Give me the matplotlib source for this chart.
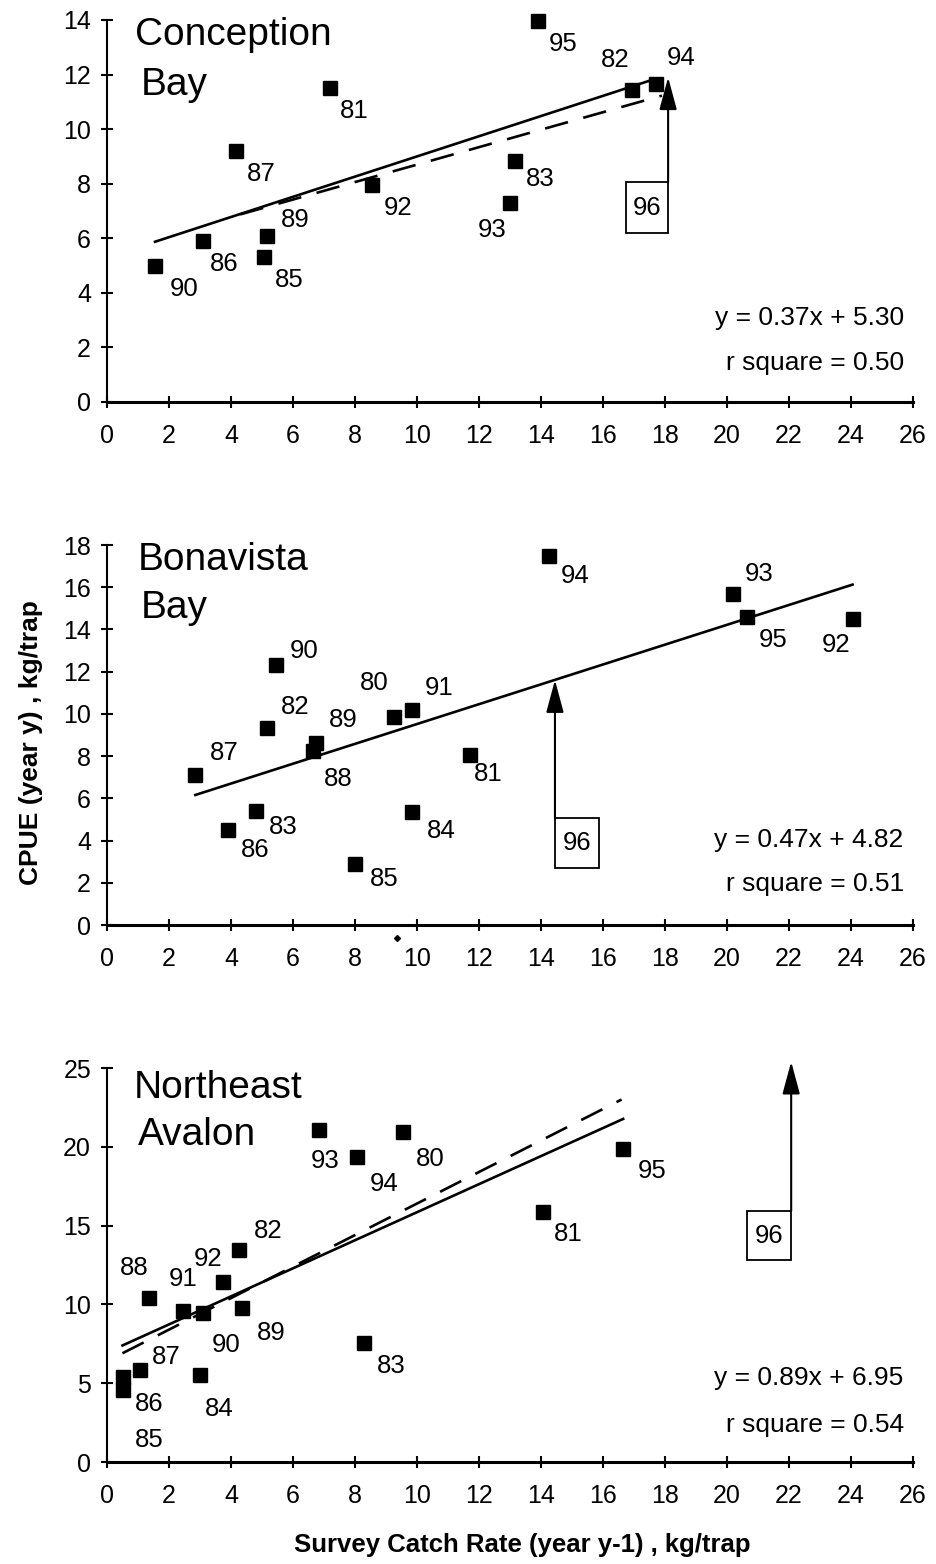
import matplotlib.pyplot as plt
from matplotlib.patches import Rectangle

plt.rcParams['font.family'] = ['Liberation Sans', 'DejaVu Sans']

# Conception Bay
cb_years = ['90', '86', '87', '85', '89', '81', '92', '93', '83', '95', '82', '94']
cb_x = [1.55, 3.1, 4.15, 5.05, 5.15, 7.2, 8.55, 13.0, 13.15, 13.9, 16.95, 17.7]
cb_y = [5.0, 5.9, 9.2, 5.3, 6.1, 11.5, 7.95, 7.3, 8.85, 13.95, 11.45, 11.65]
cb_fit = (0.37, 5.30)
cb_fit2 = (0.32, 5.5)
cb_r2 = 0.50

# Bonavista Bay
bb_years = ['87', '86', '83', '82', '90', '88', '89', '85', '80', '91', '84', '81', '94', '93', '95', '92']
bb_x = [2.85, 3.9, 4.8, 5.15, 5.45, 6.65, 6.75, 8.0, 9.25, 9.85, 9.85, 11.7, 14.25, 20.2, 20.65, 24.05]
bb_y = [7.1, 4.5, 5.4, 9.35, 12.3, 8.25, 8.6, 2.9, 9.85, 10.2, 5.35, 8.05, 17.5, 15.7, 14.6, 14.5]
bb_fit = (0.47, 4.82)
bb_r2 = 0.51

# Northeast Avalon
na_years = ['86', '85', '87', '88', '91', '84', '90', '92', '89', '82', '93', '94', '80', '83', '81', '95']
na_x = [0.5, 0.5, 1.05, 1.35, 2.45, 3.0, 3.1, 3.75, 4.35, 4.25, 6.85, 8.05, 9.55, 8.3, 14.05, 16.65]
na_y = [5.4, 4.6, 5.85, 10.4, 9.55, 5.55, 9.45, 11.45, 9.75, 13.45, 21.05, 19.35, 20.95, 7.55, 15.85, 19.85]
na_fit = (0.89, 6.95)
na_fit2 = (1.0, 6.4)
na_r2 = 0.54

x_ticks = list(range(0, 27, 2))

LABEL_FS = 18.5
TITLE_FS = 28


def setup_axes(ax, ymax, ystep):
    ax.set_xlim(0, 26)
    ax.set_ylim(0, ymax)
    ax.set_xticks(x_ticks)
    ax.set_yticks(range(0, ymax + 1, ystep))
    for s in ['top', 'right']:
        ax.spines[s].set_visible(False)
    ax.spines['left'].set_linewidth(1.5)
    ax.spines['bottom'].set_linewidth(2.2)
    ax.tick_params(axis='both', direction='inout', length=9, width=1.5, labelsize=18)
    ax.tick_params(axis='x', pad=11)
    ax.tick_params(axis='y', pad=7)
    ax.patch.set_alpha(0)


def draw_points(ax, xs, ys, years, offsets):
    ax.plot(xs, ys, 's', color='black', markersize=10.5, clip_on=False, zorder=4)
    for x, y, yr, off in zip(xs, ys, years, offsets):
        ax.annotate(yr, (x, y), xytext=off, textcoords='offset pixels',
                    ha='center', va='center', fontsize=LABEL_FS)


def draw_fit(ax, fit, x0, x1, ls='-'):
    a, b = fit
    if ls == '-':
        ax.plot([x0, x1], [a * x0 + b, a * x1 + b], color='black', lw=1.9, zorder=3)
    else:
        ax.plot([x0, x1], [a * x0 + b, a * x1 + b], color='black', lw=1.9,
                dashes=(9, 6), zorder=3)


def draw_96(ax, box, arrow_x, y_top):
    x0, x1, y0, y1 = box
    ax.add_patch(Rectangle((x0, y0), x1 - x0, y1 - y0, fill=False, lw=1.3,
                           edgecolor='black', clip_on=False))
    ax.text((x0 + x1) / 2, (y0 + y1) / 2, '96', ha='center', va='center', fontsize=LABEL_FS)
    ax.annotate('', xy=(arrow_x, y_top), xytext=(arrow_x, y1),
                arrowprops=dict(arrowstyle='-|>,head_length=1.0,head_width=0.27',
                                mutation_scale=20, lw=1.5, color='black',
                                shrinkA=0, shrinkB=0),
                annotation_clip=False)


def draw_stats(ax, fit, r2, y_eq, y_r2):
    a, b = fit
    ax.text(25.7, y_eq, f'y = {a:.2f}x + {b:.2f}', ha='right', va='center', fontsize=19)
    ax.text(25.7, y_r2, f'r square = {r2:.2f}', ha='right', va='center', fontsize=19)


fig = plt.figure(figsize=(9.36, 15.64), dpi=100)
left, width = 107 / 936, (913 - 107) / 936

# panel 1
ax1 = fig.add_axes([left, 1 - 402 / 1564, width, (402 - 20) / 1564])
setup_axes(ax1, 14, 2)
draw_fit(ax1, cb_fit, 1.55, 17.7)
draw_fit(ax1, cb_fit2, 4.3, 17.9, ls='--')
cb_off = [(29, -23), (21, -23), (26, -23), (26, -23), (29, 16), (24, -23),
          (26, -23), (-18, -27), (26, -18), (25, -23), (-17, 30), (25, 26)]
draw_points(ax1, cb_x, cb_y, cb_years, cb_off)
draw_96(ax1, (16.73, 18.1, 6.2, 8.05), 18.1, 11.9)
draw_stats(ax1, cb_fit, cb_r2, 3.08, 1.43)
ax1.text(0.9, 13.45, 'Conception', fontsize=TITLE_FS, va='center', ha='left')
ax1.text(1.1, 11.6, 'Bay', fontsize=TITLE_FS, va='center', ha='left')

# panel 2
ax2 = fig.add_axes([left, 1 - 925 / 1564, width, (925 - 545) / 1564])
setup_axes(ax2, 18, 2)
draw_fit(ax2, bb_fit, 2.85, 24.05)
bb_off = [(29, 22), (27, -20), (27, -16), (29, 21), (28, 14), (25, -28), (27, 23),
          (29, -15), (-20, 34), (27, 22), (29, -19), (19, -19), (26, -20), (26, 20),
          (26, -23), (-16, -26)]
draw_points(ax2, bb_x, bb_y, bb_years, bb_off)
draw_96(ax2, (14.45, 15.86, 2.7, 5.07), 14.45, 11.6)
draw_stats(ax2, bb_fit, bb_r2, 4.03, 1.94)
ax2.text(1.0, 17.3, 'Bonavista', fontsize=TITLE_FS, va='center', ha='left')
ax2.text(1.1, 15.0, 'Bay', fontsize=TITLE_FS, va='center', ha='left')
ax2.plot([9.35], [-0.6], marker='D', color='black', markersize=3, clip_on=False)

# panel 3
ax3 = fig.add_axes([left, 1 - 1462 / 1564, width, (1462 - 1068) / 1564])
setup_axes(ax3, 25, 5)
draw_fit(ax3, na_fit, 0.5, 16.65)
draw_fit(ax3, na_fit2, 0.5, 16.6, ls='--')
na_off = [(27, -27), (27, -50), (27, 13), (-15, 30), (0, 32), (19, -34), (23, -32),
          (-15, 23), (29, -25), (29, 19), (6, -31), (28, -27), (27, -27), (27, -23),
          (26, -22), (29, -22)]
draw_points(ax3, na_x, na_y, na_years, na_off)
draw_96(ax3, (20.66, 22.07, 12.8, 15.93), 22.07, 25.4)
draw_stats(ax3, na_fit, na_r2, 5.33, 2.35)
ax3.text(0.85, 23.7, 'Northeast', fontsize=TITLE_FS, va='center', ha='left')
ax3.text(1.0, 20.75, 'Avalon', fontsize=TITLE_FS, va='center', ha='left')

fig.text(31 / 936, 1 - 743 / 1564, 'CPUE (year y) , kg/trap', rotation=90,
         ha='center', va='center', fontsize=19, fontweight='bold')
fig.text(522 / 936, 1 - 1545 / 1564, 'Survey Catch Rate (year y-1) , kg/trap',
         ha='center', va='center', fontsize=18.5, fontweight='bold')

plt.savefig('out.png', dpi=100)
